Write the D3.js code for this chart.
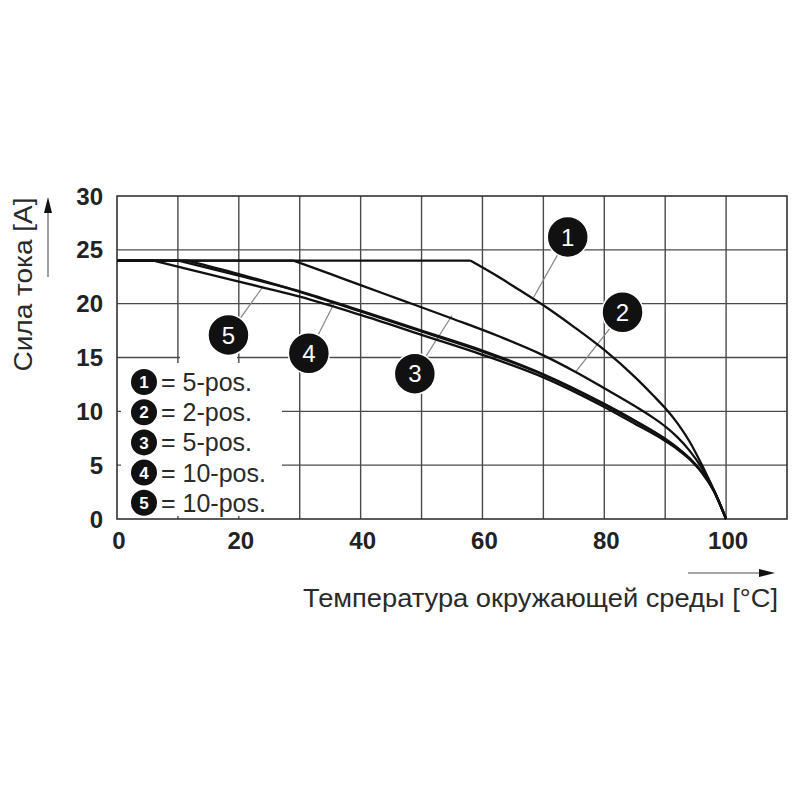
<!DOCTYPE html>
<html>
<head>
<meta charset="utf-8">
<script src="https://cdn.jsdelivr.net/npm/d3@7/dist/d3.min.js"></script>
<style>
  html, body { margin: 0; padding: 0; background: #fff; }
  svg { display: block; }
  text { font-family: "Liberation Sans", Arial, Helvetica, sans-serif; }
</style>
</head>
<body>
<svg id="chart" width="800" height="800"></svg>
<script>
// ---------------- DATA ----------------
const xTickLabels = [0, 20, 40, 60, 80, 100];
const yTickLabels = [0, 5, 10, 15, 20, 25, 30];
const xGrid = [10, 20, 30, 40, 50, 60, 70, 80, 90, 100];
const yGrid = [5, 10, 15, 20, 25];

const seriesIds = ["1", "2", "3", "4", "5"];
const legendLabels = ["= 5-pos.", "= 2-pos.", "= 5-pos.", "= 10-pos.", "= 10-pos."];

// plateau start and knee temperature of each curve (temperature [°C], current [A])
const plateauStart = [0, 24];
const knees = [58, 29, 11.5, 10, 6];

// descending part of each curve, starting at the knee
const curve1 = [[58, 24], [62, 22.7], [66, 21.3], [70, 19.85], [75, 17.85], [80, 15.7], [85, 13.2], [88, 11.5], [90, 10.3], [92, 8.9], [94, 7.2], [96, 5.05], [98, 2.65], [100, 0]];
const curve2 = [[29, 24], [35, 22.76], [40, 21.72], [46.5, 20.38], [55, 18.62], [63, 16.9], [70, 15.2], [75, 13.75], [80, 12.15], [85, 10.5], [88, 9.42], [90, 8.6], [92, 7.6], [94, 6.35], [96, 4.75], [98, 2.7], [100, 0]];
const curve3 = [[11.5, 24], [20, 22.75], [30, 21.1], [40, 19.28], [50, 17.42], [60, 15.55], [70, 13.38], [80, 10.62], [85, 9.08], [90, 7.4], [92, 6.58], [94, 5.62], [96, 4.36], [98, 2.61], [100, 0]];
const curve4 = [[10, 24], [20, 22.6], [30, 21.15], [40, 19.35], [50, 17.5], [60, 15.65], [70, 13.45], [80, 10.7], [85, 9.15], [90, 7.45], [92, 6.62], [94, 5.65], [96, 4.38], [98, 2.62], [100, 0]];
const curve5 = [[6, 24], [15, 22.75], [24, 21.5], [30, 20.65], [40, 18.95], [50, 17.1], [60, 15.25], [70, 13.15], [80, 10.4], [85, 8.85], [90, 7.25], [92, 6.48], [94, 5.55], [96, 4.32], [98, 2.58], [100, 0]];
const curves = [curve1, curve2, curve3, curve4, curve5];

// callout circles (data coords) and where their pointer touches a curve
const calloutPos = [[74, 26.2], [83, 19.2], [48.9, 13.5], [31.5, 15.4], [18.3, 17.1]];
const calloutTarget = [[68.4, 20.6], [75.2, 13.6], [55, 18.9], [35.8, 20.2], [24, 21.6]];

const xTitle = "Температура окружающей среды [°C]";
const yTitle = "Сила тока [A]";

// ---------------- CHART ----------------
const svg = d3.select("#chart");
const L = 117, R = 787, T = 196, B = 519;
const x = d3.scaleLinear().domain([0, 110]).range([L, R]);
const y = d3.scaleLinear().domain([0, 30]).range([B, T]);

// grid
const grid = svg.append("g");
grid.selectAll("line.vx").data(xGrid).join("line")
  .attr("x1", d => x(d)).attr("x2", d => x(d))
  .attr("y1", T).attr("y2", B)
  .attr("stroke", "#4a4a4a").attr("stroke-width", 1.4);
grid.selectAll("line.hy").data(yGrid).join("line")
  .attr("x1", L).attr("x2", R)
  .attr("y1", d => y(d)).attr("y2", d => y(d))
  .attr("stroke", "#4a4a4a").attr("stroke-width", 1.4);

// white legend box hiding the grid
svg.append("rect").attr("x", 121).attr("y", 363).attr("width", 161).attr("height", 153).attr("fill", "#fff");
svg.append("rect").attr("x", 180).attr("y", 353).attr("width", 57).attr("height", 12).attr("fill", "#fff");

// frame
svg.append("rect").attr("x", L).attr("y", T).attr("width", R - L).attr("height", B - T)
  .attr("fill", "none").attr("stroke", "#333").attr("stroke-width", 1.6);

// pointers
svg.append("g").selectAll("line").data(calloutPos).join("line")
  .attr("x1", d => x(d[0])).attr("y1", d => y(d[1]))
  .attr("x2", (d, i) => x(calloutTarget[i][0])).attr("y2", (d, i) => y(calloutTarget[i][1]))
  .attr("stroke", "#8a8a8a").attr("stroke-width", 1.3);

// curves
const lin = d3.line().x(d => x(d[0])).y(d => y(d[1]));
const mono = d3.line().x(d => x(d[0])).y(d => y(d[1])).curve(d3.curveMonotoneX);
svg.append("g").selectAll("path").data(curves).join("path")
  .attr("d", (c, i) => lin([plateauStart, [knees[i], plateauStart[1]]]) + mono(c))
  .attr("fill", "none").attr("stroke", "#111").attr("stroke-width", 2.3)
  .attr("stroke-linejoin", "round");

// callouts
const co = svg.append("g").selectAll("g").data(calloutPos).join("g")
  .attr("transform", d => `translate(${x(d[0])},${y(d[1])})`);
co.append("circle").attr("r", 20.5).attr("fill", "#111").attr("stroke", "#fff").attr("stroke-width", 1.5);
co.append("text").text((d, i) => seriesIds[i])
  .attr("text-anchor", "middle").attr("dy", "0.36em")
  .attr("fill", "#fff").attr("font-size", 24);

// legend
const lg = svg.append("g").selectAll("g").data(legendLabels).join("g")
  .attr("transform", (d, i) => `translate(144,${382 + i * 30.2})`);
lg.append("circle").attr("r", 13).attr("fill", "#111");
lg.append("text").text((d, i) => seriesIds[i])
  .attr("text-anchor", "middle").attr("dy", "0.36em")
  .attr("fill", "#fff").attr("font-size", 17).attr("font-weight", "bold");
lg.append("text").text(d => d)
  .attr("x", 17).attr("dy", "0.36em")
  .attr("fill", "#2a2a2a").attr("font-size", 25);

// tick labels
svg.append("g").selectAll("text").data(yTickLabels).join("text")
  .text(d => d)
  .attr("x", 103).attr("y", d => y(d)).attr("dy", "0.36em")
  .attr("text-anchor", "end").attr("font-weight", "bold")
  .attr("font-size", 24).attr("fill", "#222");
svg.append("g").selectAll("text").data(xTickLabels).join("text")
  .text(d => d)
  .attr("x", d => x(d) + 2).attr("y", 540).attr("dy", "0.36em")
  .attr("text-anchor", "middle").attr("font-weight", "bold")
  .attr("font-size", 24).attr("fill", "#222");

// axis titles
svg.append("text").text(xTitle)
  .attr("x", 303).attr("y", 607)
  .attr("textLength", 475).attr("lengthAdjust", "spacingAndGlyphs")
  .attr("font-size", 25).attr("fill", "#2a2a2a");
svg.append("text").text(yTitle)
  .attr("transform", "translate(32,284.5) rotate(-90)")
  .attr("text-anchor", "middle")
  .attr("textLength", 174).attr("lengthAdjust", "spacingAndGlyphs")
  .attr("font-size", 25).attr("fill", "#2a2a2a");

// axis arrows
svg.append("line").attr("x1", 688).attr("x2", 762).attr("y1", 573).attr("y2", 573)
  .attr("stroke", "#888").attr("stroke-width", 1.6);
svg.append("path").attr("d", "M759,569 L775,573 L759,577 Z").attr("fill", "#111");
svg.append("line").attr("x1", 48).attr("x2", 48).attr("y1", 277).attr("y2", 210)
  .attr("stroke", "#888").attr("stroke-width", 1.6);
svg.append("path").attr("d", "M44,213 L48,197 L52,213 Z").attr("fill", "#111");
</script>
</body>
</html>
